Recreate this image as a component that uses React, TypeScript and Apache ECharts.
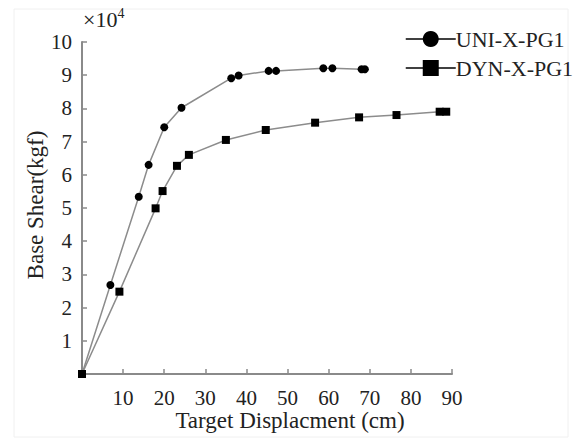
import React, { useEffect, useRef } from "react";
import * as echarts from "echarts";

const seriesNames = ["UNI-X-PG1", "DYN-X-PG1"];
const uniDisp = [0, 6.9, 13.8, 16.2, 20.0, 24.2, 36.3, 38.1, 45.4, 47.2, 58.7, 60.9, 68.0, 68.8];
const uniShear = [0, 2.68, 5.34, 6.3, 7.43, 8.02, 8.91, 8.99, 9.13, 9.13, 9.21, 9.21, 9.18, 9.18];
const dynDisp = [0, 9.1, 17.9, 19.6, 23.1, 26.0, 35.0, 44.7, 56.7, 67.4, 76.5, 87.0, 88.6];
const dynShear = [0, 2.48, 4.99, 5.51, 6.27, 6.6, 7.05, 7.35, 7.57, 7.73, 7.8, 7.9, 7.9];
const xTitle = "Target Displacment (cm)";
const yTitle = "Base Shear(kgf)";

const FONT = "serif";

export default function App() {
  const ref = useRef<HTMLDivElement>(null);
  useEffect(() => {
    const chart = echarts.init(ref.current!, null, { renderer: "svg" });
    const pair = (xs: number[], ys: number[]) => xs.map((x, i) => [x, ys[i]]);
    chart.setOption({
      animation: false,
      backgroundColor: "#ffffff",
      textStyle: { fontFamily: FONT },
      grid: { left: 82, top: 42, width: 370, height: 332, containLabel: false },
      legend: {
        orient: "vertical",
        left: 400,
        top: 23,
        itemWidth: 50,
        itemHeight: 20,
        itemGap: 7,
        lineStyle: { color: "#000", width: 1.5 },
        itemStyle: { color: "#000" },
        textStyle: { fontFamily: FONT, fontSize: 22, color: "#222", padding: [0, 0, 0, -5] },
        data: seriesNames,
      },
      xAxis: {
        type: "value",
        min: 0,
        max: 90,
        interval: 10,
        axisLine: { lineStyle: { color: "#8a8a8a", width: 2 } },
        axisTick: { inside: true, length: 5, lineStyle: { color: "#8a8a8a", width: 1.5 } },
        splitLine: { show: false },
        axisLabel: {
          showMinLabel: false,
          margin: 13,
          fontFamily: FONT,
          fontSize: 21,
          color: "#222",
        },
      },
      yAxis: {
        type: "value",
        min: 0,
        max: 10,
        interval: 1,
        axisLine: { show: true, lineStyle: { color: "#8a8a8a", width: 2 } },
        axisTick: { show: true, inside: true, length: 5, lineStyle: { color: "#8a8a8a", width: 1.5 } },
        splitLine: { show: false },
        axisLabel: {
          showMinLabel: false,
          margin: 10,
          fontFamily: FONT,
          fontSize: 21,
          color: "#222",
        },
      },
      graphic: [
        {
          type: "rect",
          shape: { x: 14, y: 9, width: 554, height: 428 },
          style: { fill: "none", stroke: "#f0f0f0", lineWidth: 1 },
          silent: true,
        },
        {
          type: "text",
          left: 83,
          top: 6,
          style: {
            text: "{a|×10}{b|4}",
            rich: {
              a: { fontFamily: FONT, fontSize: 22, fill: "#222", verticalAlign: "bottom" },
              b: { fontFamily: FONT, fontSize: 14, fill: "#222", verticalAlign: "top", padding: [0, 0, 10, 0] },
            },
          },
        },
        {
          type: "text",
          x: 290,
          y: 420,
          style: {
            text: xTitle,
            fontFamily: FONT,
            fontSize: 23,
            fill: "#222",
            align: "center",
            verticalAlign: "middle",
          },
        },
        {
          type: "text",
          x: 35,
          y: 205,
          rotation: Math.PI / 2,
          style: {
            text: yTitle,
            fontFamily: FONT,
            fontSize: 23,
            fill: "#222",
            align: "center",
            verticalAlign: "middle",
          },
        },
      ],
      series: [
        {
          name: seriesNames[0],
          type: "line",
          data: pair(uniDisp, uniShear),
          symbol: "circle",
          symbolSize: 8,
          itemStyle: { color: "#000" },
          lineStyle: { color: "#8c8c8c", width: 1.5 },
        },
        {
          name: seriesNames[1],
          type: "line",
          data: pair(dynDisp, dynShear),
          symbol: "rect",
          symbolSize: 8,
          itemStyle: { color: "#000" },
          lineStyle: { color: "#8c8c8c", width: 1.5 },
        },
      ],
    });
    return () => chart.dispose();
  }, []);
  return <div ref={ref} style={{ width: 579, height: 441, position: "absolute", left: 0, top: 0 }} />;
}
